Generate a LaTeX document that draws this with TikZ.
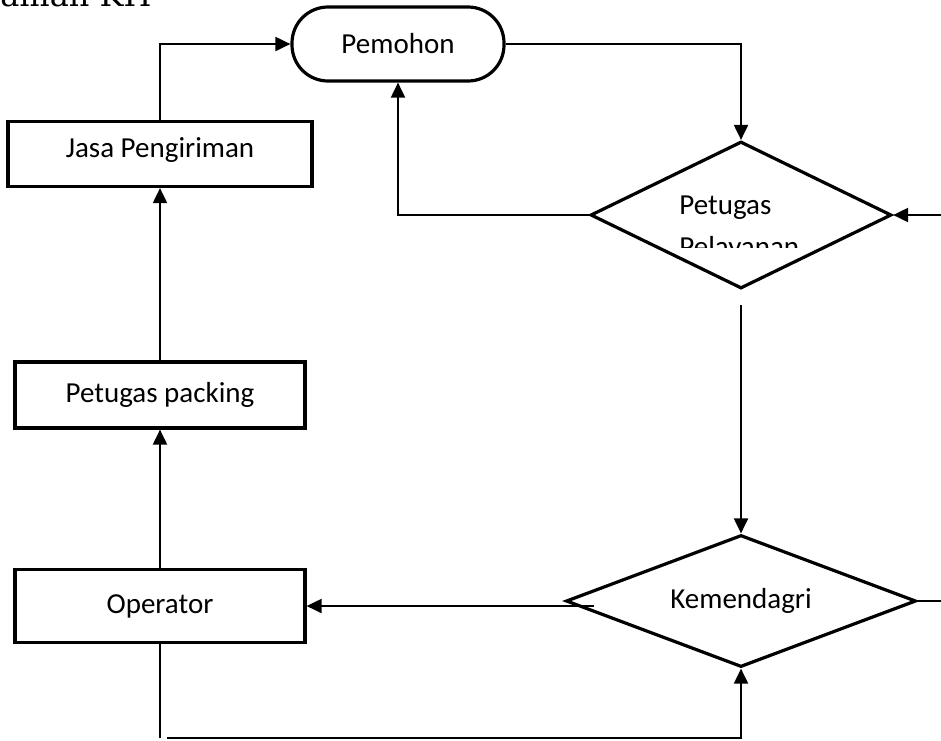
\documentclass[tikz,border=0pt]{standalone}
\usepackage{fontspec}
\setmainfont{Carlito}
\newfontfamily\judulfont{DejaVu Serif}
\usetikzlibrary{shapes.geometric,arrows.meta}

\begin{document}
\begin{tikzpicture}[x=0.5pt,y=-0.5pt,
  >={Triangle[length=7.5pt,width=7pt]},
  garis/.style={line width=1pt},
  kotak/.style={draw,line width=1.6pt,rectangle,inner sep=0pt,font=\fontsize{14.5}{17}\selectfont},
  mulai/.style={kotak,rounded corners=18pt},
  pilih/.style={kotak,diamond,aspect=2}]

\useasboundingbox (0,0) rectangle (941,740);

\node[anchor=base west,inner sep=0pt,font=\judulfont\fontsize{16}{19}\selectfont] (judul) at (0,6) {aman KH};

\node[mulai,minimum width=106pt,minimum height=37pt]   (pemohon)    at (398,44)  {Pemohon};
\node[kotak,minimum width=152pt,minimum height=32.5pt,text depth=6pt] (jasa) at (160,154) {Jasa Pengiriman};
\node[kotak,minimum width=145pt,minimum height=33pt]   (packing)    at (160,395) {Petugas packing};
\node[kotak,minimum width=145pt,minimum height=36.5pt] (operator)   at (160,606) {Operator};
\node[pilih,minimum width=150.5pt,minimum height=73.5pt] (petugas)  at (741,215) {};
\node[pilih,minimum width=175pt,minimum height=66pt]   (kemendagri) at (741,601) {Kemendagri};

\begin{scope}
\clip (600,150) rectangle (890,247);
\node[anchor=north west,inner sep=0pt,align=left,font=\fontsize{14.5}{21}\selectfont] (petugasteks) at (679,195) {Petugas\\Pelayanan};
\end{scope}

\coordinate (kanan1) at (941,215);
\coordinate (kanan2) at (941,601);
\coordinate (bawah)  at (167,738);
\path (kemendagri.west |- operator.east) ++(30,0) coordinate (kiri);

\draw[garis,->] (jasa.north) |- (pemohon.west);
\draw[garis,->] (pemohon.east) -| (petugas.north);
\draw[garis,->] (petugas.west) -| (pemohon.south);
\draw[garis,->] (kanan1) -- (petugas.east);
\draw[garis,->] ([yshift=-7.5pt]petugas.south) -- (kemendagri.north);

\draw[garis,->] (kiri) -- (operator.east);
\draw[garis] (kemendagri.east) -- (kanan2);

\draw[garis,->] (operator.north) -- (packing.south);
\draw[garis,->] (packing.north) -- (jasa.south);

\draw[garis] (operator.south) -- (operator.south |- bawah);
\draw[garis,->] (bawah) -| (kemendagri.south);

\end{tikzpicture}
\end{document}
